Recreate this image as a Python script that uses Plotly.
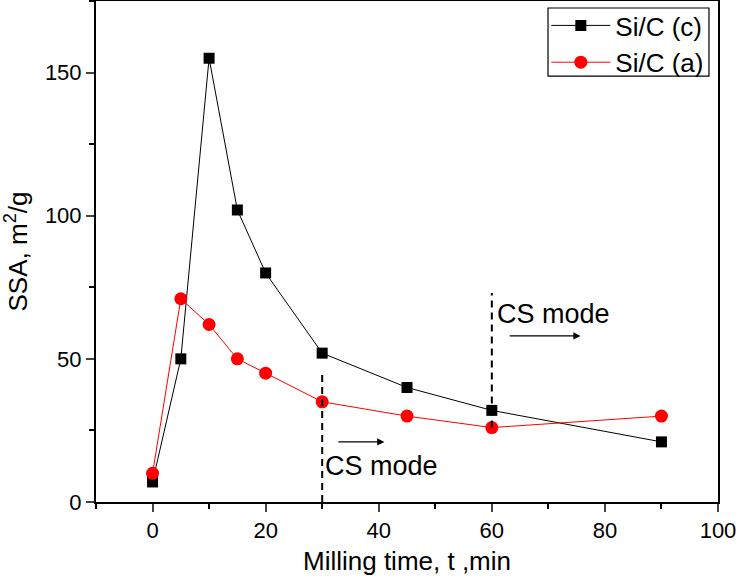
import plotly.graph_objects as go

# milling time (min)
time_c = [0, 5, 10, 15, 20, 30, 45, 60, 90]
ssa_c = [7, 50, 155, 102, 80, 52, 40, 32, 21]

time_a = [0, 5, 10, 15, 20, 30, 45, 60, 90]
ssa_a = [10, 71, 62, 50, 45, 35, 30, 26, 30]

# CS mode markers
cs_x = [30, 60]
cs_y0 = [0, 26]
cs_y1 = [45, 73]

fnt = "Liberation Sans, Arial, sans-serif"

fig = go.Figure()

fig.add_scatter(x=time_c, y=ssa_c, name="Si/C (c)", mode="lines+markers",
                line=dict(color="black", width=1),
                marker=dict(symbol="square", size=11, color="black"))
fig.add_scatter(x=time_a, y=ssa_a, name="Si/C (a)", mode="lines+markers",
                line=dict(color="red", width=1),
                marker=dict(symbol="circle", size=13, color="red"))

# dashed vertical lines
for i in range(len(cs_x)):
    fig.add_shape(type="line", x0=cs_x[i], x1=cs_x[i], y0=cs_y0[i], y1=cs_y1[i],
                  xref="x", yref="y", line=dict(color="black", width=2, dash="7px,5px"))

# legend frame
fig.add_shape(type="rect", xref="paper", yref="paper", x0=0.7267, x1=0.9855, y0=0.850, y1=0.986,
              line=dict(color="black", width=1.2), fillcolor="rgba(0,0,0,0)")

# text + arrows
fig.add_annotation(x=30.2, y=12.6, text="CS mode", showarrow=False, xanchor="left",
                   font=dict(size=27, color="black", family=fnt))
fig.add_annotation(x=41, y=21, ax=32.6, ay=21, axref="x", ayref="y", text="",
                   showarrow=True, arrowhead=2, arrowsize=1.2, arrowwidth=1.2, arrowcolor="black")
fig.add_annotation(x=60.6, y=65.6, text="CS mode", showarrow=False, xanchor="left",
                   font=dict(size=27, color="black", family=fnt))
fig.add_annotation(x=75.7, y=58, ax=62.9, ay=58, axref="x", ayref="y", text="",
                   showarrow=True, arrowhead=2, arrowsize=1.2, arrowwidth=1.2, arrowcolor="black")

fig.update_layout(
    width=736, height=576,
    margin=dict(l=96, r=18, t=1, b=74, autoexpand=False),
    plot_bgcolor="white", paper_bgcolor="white",
    font=dict(family=fnt, size=22, color="black"),
    showlegend=True,
    legend=dict(x=0.724, y=0.998, xanchor="left", yanchor="top",
                borderwidth=0, bgcolor="rgba(0,0,0,0)",
                font=dict(size=26), tracegroupgap=0, itemwidth=59),
)

fig.update_xaxes(range=[-10, 100], tick0=0, dtick=20, ticks="outside", ticklen=8, tickwidth=1.5,
                 showline=True, linecolor="black", linewidth=2, mirror=True, showgrid=False,
                 zeroline=False, ticklabeloverflow="allow",
                 minor=dict(ticks="outside", ticklen=5, dtick=10, tickcolor="black", tickwidth=1.5),
                 title=dict(text="Milling time, t ,min", font=dict(size=26), standoff=9))
fig.update_yaxes(range=[0, 175], tick0=0, dtick=50, ticks="outside", ticklen=8, tickwidth=1.5,
                 showline=True, linecolor="black", linewidth=2, mirror=True, showgrid=False,
                 zeroline=False,
                 minor=dict(ticks="outside", ticklen=5, dtick=25, tickcolor="black", tickwidth=1.5),
                 title=dict(text="SSA, m<sup>2</sup>/g", font=dict(size=26), standoff=10))

fig.write_html("out.html", config={"displayModeBar": False},
               post_script="document.body.style.margin='0';")
